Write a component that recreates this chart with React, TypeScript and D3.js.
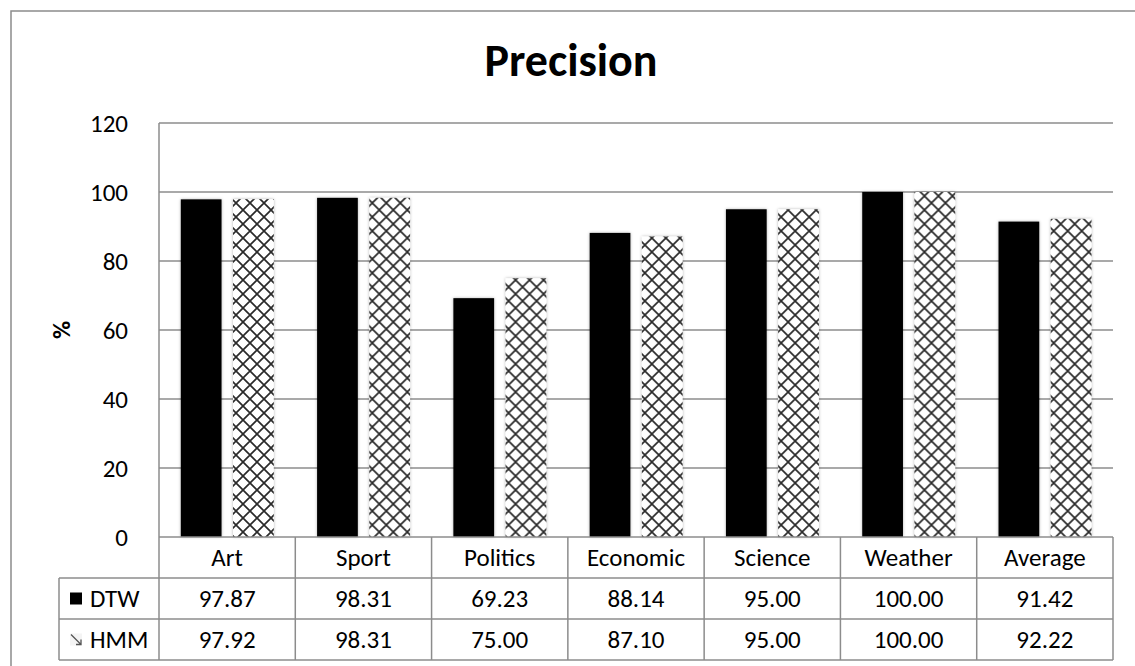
import React from "react";
import * as d3 from "d3";

const categories = ["Art", "Sport", "Politics", "Economic", "Science", "Weather", "Average"];
const seriesNames = ["DTW", "HMM"];
const dtwValues = [97.87, 98.31, 69.23, 88.14, 95.0, 100.0, 91.42];
const hmmValues = [97.92, 98.31, 75.0, 87.1, 95.0, 100.0, 92.22];
const yTicks = [0, 20, 40, 60, 80, 100, 120];
const title = "Precision";
const yLabel = "%";

const W = 1135;
const H = 666;
const plotL = 159;
const plotR = 1113;
const plotT = 123;
const plotB = 537;
const tableL = 59;
const rowH = [41, 41, 41];
const FONT = "Calibri, Carlito, 'Open Sans', sans-serif";
const GRID = "#8c8c8c";
const FS = 25;

export default function App() {
  const x0 = d3.scaleBand<string>().domain(categories).range([plotL, plotR]).paddingInner(0).paddingOuter(0);
  const bw = x0.bandwidth();
  const x1 = d3
    .scaleBand<string>()
    .domain(seriesNames)
    .range([bw * 0.16, bw * 0.842])
    .paddingInner(0.22)
    .paddingOuter(0);
  const y = d3.scaleLinear().domain([0, 120]).range([plotB, plotT]);
  const seriesVals = [dtwValues, hmmValues];
  const fmt = d3.format(".2f");

  const row0 = plotB;
  const row1 = row0 + rowH[0];
  const row2 = row1 + rowH[1];
  const row3 = row2 + rowH[2];

  return (
    <div style={{ position: "absolute", left: 0, top: 0 }}>
      <svg width={W} height={H} style={{ display: "block", background: "#fff" }}>
        <defs>
          <pattern id="xhatch" patternUnits="userSpaceOnUse" width={14} height={14}>
            <rect width={14} height={14} fill="#fff" />
            <path d="M0,0 L14,14 M14,0 L0,14" stroke="#2a2a2a" strokeWidth={1.7} />
          </pattern>
          <filter id="glow" x="-20%" y="-5%" width="140%" height="110%">
            <feDropShadow dx="0" dy="0" stdDeviation="1.6" floodColor="#000" floodOpacity="0.3" />
          </filter>
        </defs>
        {/* outer border */}
        <rect x={11} y={11} width={1135} height={670} fill="none" stroke={GRID} strokeWidth={1.5} />
        {/* title */}
        <text x={571} y={76} textAnchor="middle" fontFamily={FONT} fontWeight="bold" fontSize={46} fill="#000">
          {title}
        </text>
        {/* y label */}
        <text
          transform={`translate(61,${(plotT + plotB) / 2}) rotate(-90)`}
          textAnchor="middle"
          dy="0.35em"
          fontFamily={FONT}
          fontWeight="bold"
          fontSize={FS}
          fill="#000"
        >
          {yLabel}
        </text>
        {/* grid lines */}
        {yTicks.map((t) => (
          <g key={t}>
            {t > 0 && <line x1={plotL} x2={plotR} y1={y(t)} y2={y(t)} stroke={GRID} strokeWidth={1.5} />}
            <text
              x={128}
              y={y(t)}
              dy="0.35em"
              textAnchor="end"
              fontFamily={FONT}
              fontSize={FS}
              fill="#000"
            >
              {t}
            </text>
          </g>
        ))}
        {/* plot left axis line */}
        <line x1={plotL} x2={plotL} y1={plotT} y2={row3} stroke={GRID} strokeWidth={1.5} />
        {/* bars */}
        {categories.map((c, i) => (
          <g key={c} transform={`translate(${x0(c)},0)`}>
            {seriesNames.map((s, k) => {
              const v = seriesVals[k][i];
              return (
                <rect
                  key={s}
                  x={x1(s)}
                  y={y(v)}
                  width={x1.bandwidth()}
                  height={y(0) - y(v)}
                  fill={k === 0 ? "#000" : "url(#xhatch)"}
                  filter="url(#glow)"
                />
              );
            })}
          </g>
        ))}
        {/* table */}
        <g stroke={GRID} strokeWidth={1.5} fill="none">
          <line x1={plotL} x2={plotR} y1={row0} y2={row0} />
          <line x1={tableL} x2={plotR} y1={row1} y2={row1} />
          <line x1={tableL} x2={plotR} y1={row2} y2={row2} />
          <line x1={tableL} x2={plotR} y1={row3} y2={row3} />
          <line x1={tableL} x2={tableL} y1={row1} y2={row3} />
          {categories.map((c) => (
            <line key={c} x1={(x0(c) as number) + bw} x2={(x0(c) as number) + bw} y1={row0} y2={row3} />
          ))}
        </g>
        {categories.map((c) => (
          <text
            key={c}
            x={(x0(c) as number) + bw / 2}
            y={(row0 + row1) / 2}
            dy="0.35em"
            textAnchor="middle"
            fontFamily={FONT}
            fontSize={FS}
            fill="#000"
          >
            {c}
          </text>
        ))}
        {seriesNames.map((s, k) => {
          const cy = k === 0 ? (row1 + row2) / 2 : (row2 + row3) / 2;
          return (
            <g key={s}>
              {k === 0 ? (
                <rect x={70} y={cy - 6} width={12} height={12} fill="#000" />
              ) : (
                <g>
                  <rect x={70} y={cy - 6} width={12} height={12} fill="#f4f4f4" />
                  <path
                    d={`M71,${cy - 5} L81,${cy + 5} M76,${cy + 5} L81,${cy + 5} L81,${cy}`}
                    stroke="#555"
                    strokeWidth={1.3}
                    fill="none"
                  />
                </g>
              )}
              <text x={90} y={cy} dy="0.35em" fontFamily={FONT} fontSize={FS} fill="#000">
                {s}
              </text>
              {categories.map((c, i) => (
                <text
                  key={c}
                  x={(x0(c) as number) + bw / 2}
                  y={cy}
                  dy="0.35em"
                  textAnchor="middle"
                  fontFamily={FONT}
                  fontSize={FS}
                  fill="#000"
                >
                  {fmt(seriesVals[k][i])}
                </text>
              ))}
            </g>
          );
        })}
      </svg>
    </div>
  );
}
